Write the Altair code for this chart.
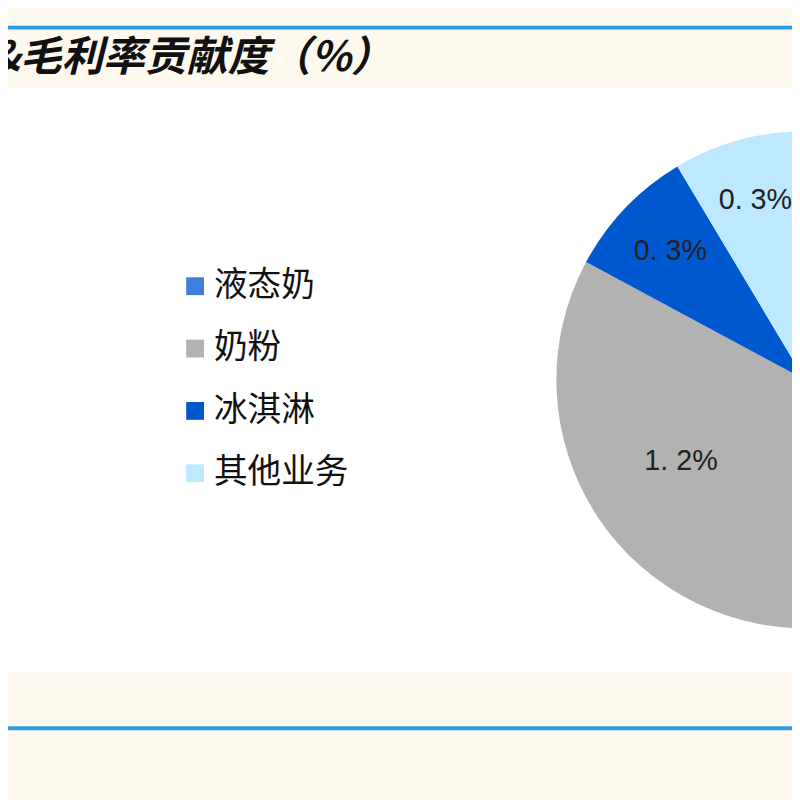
import altair as alt
import pandas as pd

# 业务毛利率贡献度（%）— right-hand pie, legend in the middle
CATS = ["液态奶", "奶粉", "冰淇淋", "其他业务"]
VALUES = [1.7, 1.2, 0.3, 0.3]
COLORS = ["#3f7fdc", "#b2b2b2", "#0058cf", "#bde8fd"]
TITLE = "&毛利率贡献度（%）"

CREAM = "#fef9ee"
LINE_BLUE = "#2a9ee0"
FONT_CJK = "Noto Sans CJK SC"

W, H = 792, 792
CX, CY, R = 805, 371.5, 251

df = pd.DataFrame({"cat": CATS, "v": VALUES, "idx": range(len(CATS))})
one = pd.DataFrame({"t": [TITLE]})

# white plotting band between the cream header and footer
band = alt.Chart(one).mark_rect(color="white").encode(
    x=alt.value(0), x2=alt.value(W), y=alt.value(76), y2=alt.value(667))

top_line = alt.Chart(one).mark_rule(color=LINE_BLUE, strokeWidth=4).encode(
    x=alt.value(0), x2=alt.value(W), y=alt.value(15.8))
bottom_line = alt.Chart(one).mark_rule(color=LINE_BLUE, strokeWidth=4).encode(
    x=alt.value(0), x2=alt.value(W), y=alt.value(723.5))

title = alt.Chart(one).mark_text(
    align="left", baseline="middle", font=FONT_CJK, fontSize=42,
    fontWeight="bold", fontStyle="italic", color="#111").encode(
    x=alt.value(-19), y=alt.value(47), text="t:N")

color = alt.Color(
    "cat:N", sort=CATS, scale=alt.Scale(domain=CATS, range=COLORS),
    legend=alt.Legend(
        orient="none", legendX=172, legendY=260, title=None, padding=0,
        symbolType="square", symbolSize=324, symbolStrokeWidth=0,
        labelFont=FONT_CJK, labelFontSize=34, labelColor="#111",
        labelOffset=2, rowPadding=29))

pie = alt.Chart(df).mark_arc(radius=R).encode(
    theta=alt.Theta("v:Q", stack=True),
    order=alt.Order("idx:Q"),
    color=color,
    x=alt.value(CX), y=alt.value(CY),
)

# slice labels at the middle angle of each slice (radians, clockwise from top)
labels = alt.Chart(df).transform_window(
    cum="sum(v)", sort=[alt.SortField("idx")],
).transform_joinaggregate(
    total="sum(v)",
).transform_calculate(
    mid="(datum.cum - datum.v / 2) / datum.total * 2 * PI",
    lab="replace(format(datum.v, '.1f'), '.', '. ') + '%'",
    lr="datum.cat == '奶粉' ? 150 : 188",
).mark_text(font="Liberation Sans", fontSize=29, color="#222").encode(
    theta=alt.Theta("mid:Q", scale=None, stack=None),
    radius=alt.Radius("lr:Q", scale=None),
    text="lab:N",
    x=alt.value(CX), y=alt.value(CY),
)

chart = alt.layer(band, top_line, bottom_line, title, pie, labels).properties(
    width=W, height=H, background=CREAM, padding=0,
    autosize=alt.AutoSizeParams(type="none"),
).configure_view(stroke=None)

chart.save("out.html", embed_options={"renderer": "svg", "actions": False})
